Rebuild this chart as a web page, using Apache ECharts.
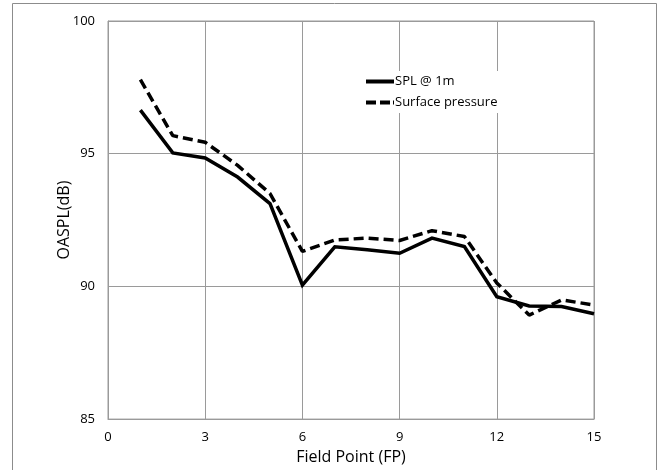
<!DOCTYPE html>
<html>
<head>
<meta charset="utf-8">
<script src="https://cdn.jsdelivr.net/npm/echarts@6/dist/echarts.min.js"></script>
<style>
  html, body { margin: 0; padding: 0; background: #fff; }
  #chart { width: 659px; height: 470px; }
</style>
</head>
<body>
<div id="chart"></div>
<script>
// field points
const fieldPoints = [1, 2, 3, 4, 5, 6, 7, 8, 9, 10, 11, 12, 13, 14, 15]
// SPL @ 1m (dB)
const splAt1m = [96.64, 95.03, 94.84, 94.12, 93.12, 90.05, 91.49, 91.38, 91.25, 91.82, 91.5, 89.61, 89.26, 89.24, 88.97]
// surface pressure (dB)
const surfacePressure = [97.79, 95.68, 95.43, 94.56, 93.5, 91.32, 91.75, 91.82, 91.73, 92.1, 91.88, 90.13, 88.92, 89.49, 89.3]

const font = '"Open Sans", "Noto Sans", sans-serif'
const gridColor = '#9a9a9a'

const myChart = echarts.init(document.getElementById('chart'))

const option = {
  animation: false,
  textStyle: { fontFamily: font },
  graphic: [
    {
      type: 'rect',
      shape: { x: 12.5, y: 3.5, width: 644, height: 480 },
      style: { fill: 'none', stroke: '#8c8c8c', lineWidth: 1 },
      z: -1
    }
  ],
  grid: {
    left: 108,
    right: 65,
    top: 21,
    bottom: 48,
    show: true,
    borderColor: gridColor,
    borderWidth: 1
  },
  legend: {
    orient: 'vertical',
    left: 362,
    top: 71,
    padding: [4, 8, 4, 4],
    backgroundColor: '#fff',
    itemWidth: 28,
    itemHeight: 4,
    itemGap: 8,
    textStyle: { fontFamily: font, fontSize: 13, color: '#000', padding: [0, 0, 0, -4] },
    data: [
      { name: 'SPL @ 1m', icon: 'path://M0,0h28v4h-28z' },
      { name: 'Surface pressure', icon: 'path://M0,0h10v4h-10z M14,0h10v4h-10z M27,0h1v4h-1z' }
    ]
  },
  xAxis: {
    type: 'value',
    min: 0,
    max: 15,
    interval: 3,
    name: 'Field Point (FP)',
    nameLocation: 'middle',
    nameGap: 28,
    nameTextStyle: { fontFamily: font, fontSize: 16, color: '#000' },
    axisLine: { show: true, lineStyle: { color: gridColor } },
    axisTick: { show: false },
    axisLabel: { fontFamily: font, fontSize: 13, color: '#000', margin: 12 },
    splitLine: { show: true, lineStyle: { color: gridColor, width: 1 } }
  },
  yAxis: {
    type: 'value',
    min: 85,
    max: 100,
    interval: 5,
    name: 'OASPL(dB)',
    nameLocation: 'middle',
    nameGap: 36,
    nameMoveOverlap: false,
    nameTextStyle: { fontFamily: font, fontSize: 16, color: '#000' },
    axisLine: { show: true, lineStyle: { color: gridColor } },
    axisTick: { show: false },
    axisLabel: { fontFamily: font, fontSize: 13, color: '#000', margin: 13 },
    splitLine: { show: true, lineStyle: { color: gridColor, width: 1 } }
  },
  series: [
    {
      name: 'SPL @ 1m',
      type: 'line',
      symbol: 'none',
      data: fieldPoints.map((x, i) => [x, splAt1m[i]]),
      lineStyle: { color: '#000', width: 3.5, join: 'miter' },
      itemStyle: { color: '#000' }
    },
    {
      name: 'Surface pressure',
      type: 'line',
      symbol: 'none',
      data: fieldPoints.map((x, i) => [x, surfacePressure[i]]),
      lineStyle: { color: '#000', width: 3.5, type: [10, 5] },
      itemStyle: { color: '#000' }
    }
  ]
}

myChart.setOption(option)

window.addEventListener('resize', () => {
  myChart.resize()
})
</script>
</body>
</html>
